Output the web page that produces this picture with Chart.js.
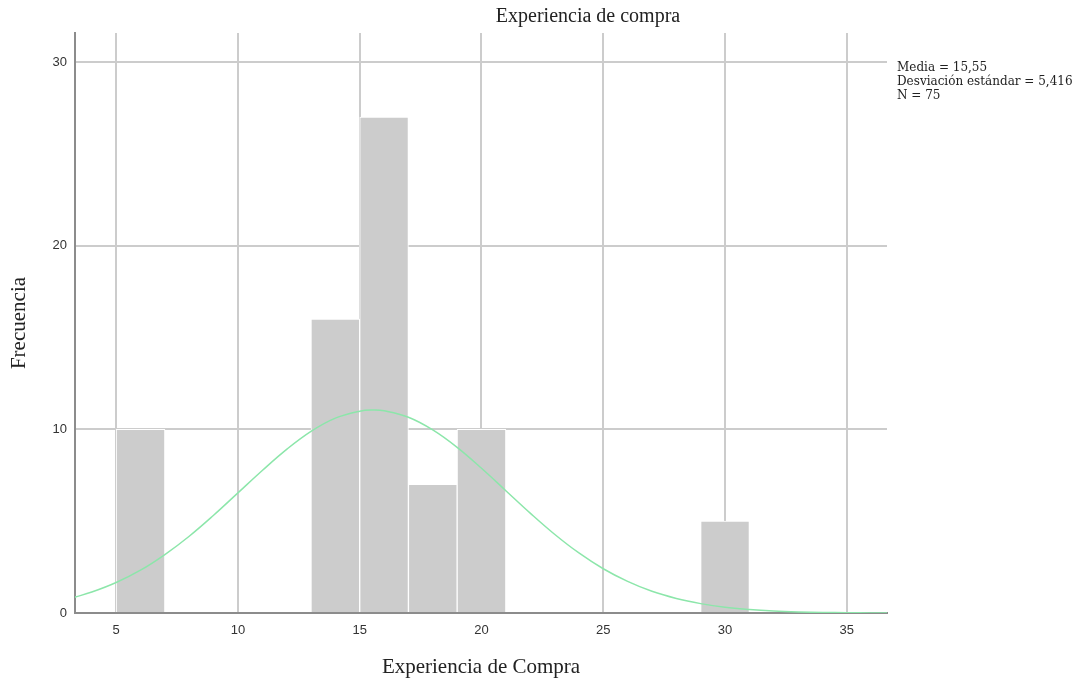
<!DOCTYPE html>
<html>
<head>
<meta charset="utf-8">
<script src="https://cdn.jsdelivr.net/npm/chart.js@4"></script>
<style>
  html, body { margin: 0; padding: 0; background: #fff; }
  #wrap { width: 1089px; height: 681px; position: relative; }
</style>
</head>
<body>
<div id="wrap"><canvas id="chart"></canvas></div>
<script>
// histogram bins (centres, width 2) and counts
const binCenters = [6, 14, 16, 18, 20, 30];
const binCounts = [10, 16, 27, 7, 10, 5];

// normal curve
const curveX = [3.3, 4, 5, 6, 7, 8, 9, 10, 11, 12, 13, 14, 15, 15.55, 16, 17, 18, 19, 20, 21, 22, 23, 24, 25, 26, 27, 28, 29, 30, 31, 32, 33, 34, 35, 36, 36.65];
const curveY = [0.86, 1.14, 1.66, 2.33, 3.18, 4.18, 5.32, 6.54, 7.76, 8.91, 9.89, 10.61, 10.99, 11.05, 11.01, 10.66, 9.97, 9.02, 7.88, 6.66, 5.44, 4.29, 3.27, 2.41, 1.72, 1.18, 0.79, 0.51, 0.31, 0.19, 0.11, 0.06, 0.03, 0.016, 0.005, 0.003];

const xTicks = [5, 10, 15, 20, 25, 30, 35];
const yTicks = [0, 10, 20, 30];

const statsLines = ['Media = 15,55', 'Desviación estándar = 5,416', 'N = 75'];
const chartTitle = 'Experiencia de compra';
const xTitle = 'Experiencia de Compra';
const yTitle = 'Frecuencia';

const serif = '"Liberation Serif", "Times New Roman", serif';

const textPlugin = {
  id: 'texts',
  afterDraw(chart) {
    const ctx = chart.ctx;
    const a = chart.chartArea;
    ctx.save();
    ctx.fillStyle = '#222';
    ctx.textBaseline = 'middle';
    ctx.font = '20px ' + serif;
    ctx.textAlign = 'center';
    ctx.fillText(chartTitle, 588, 17);
    ctx.font = '21px ' + serif;
    ctx.fillText(xTitle, (a.left + a.right) / 2, 667);
    ctx.save();
    ctx.translate(19, (a.top + a.bottom) / 2);
    ctx.rotate(-Math.PI / 2);
    ctx.fillText(yTitle, 0, 0);
    ctx.restore();
    ctx.font = '12px "DejaVu Serif", serif';
    ctx.textAlign = 'left';
    statsLines.forEach((s, i) => ctx.fillText(s, 897, 68 + i * 14));
    ctx.restore();
  }
};

new Chart(document.getElementById('chart'), {
  data: {
    datasets: [
      {
        type: 'line',
        data: curveX.map((x, i) => ({ x: x, y: curveY[i] })),
        borderColor: 'rgb(140, 230, 170)',
        borderWidth: 1.5,
        pointRadius: 0,
        tension: 0.4,
        fill: false,
        order: 0
      },
      {
        type: 'bar',
        data: binCenters.map((x, i) => ({ x: x, y: binCounts[i] })),
        backgroundColor: '#cccccc',
        borderColor: '#ffffff',
        borderWidth: 1,
        barPercentage: 1,
        categoryPercentage: 1,
        order: 1
      }
    ]
  },
  options: {
    responsive: true,
    maintainAspectRatio: false,
    animation: false,
    layout: { padding: { top: 33, right: 202, left: 0, bottom: 0 } },
    plugins: {
      legend: { display: false },
      tooltip: { enabled: false }
    },
    scales: {
      x: {
        type: 'linear',
        min: 3.31,
        max: 36.65,
        offset: false,
        afterBuildTicks: (s) => { s.ticks = xTicks.map(v => ({ value: v })); },
        afterFit: (s) => { s.height = 68; },
        grid: { color: '#cccccc', lineWidth: 2, drawTicks: false, offset: false },
        border: { color: '#8c8c8c', width: 2 },
        ticks: { color: '#333', font: { family: '"Liberation Sans", Arial, sans-serif', size: 13 }, padding: 10, maxRotation: 0 }
      },
      y: {
        min: 0,
        max: 31.58,
        afterBuildTicks: (s) => { s.ticks = yTicks.map(v => ({ value: v })); },
        afterFit: (s) => { s.width = 75; },
        grid: { color: '#cccccc', lineWidth: 2, drawTicks: false },
        border: { color: '#8c8c8c', width: 2 },
        ticks: { color: '#333', font: { family: '"Liberation Sans", Arial, sans-serif', size: 13 }, padding: 8 }
      }
    }
  },
  plugins: [textPlugin]
});
</script>
</body>
</html>
